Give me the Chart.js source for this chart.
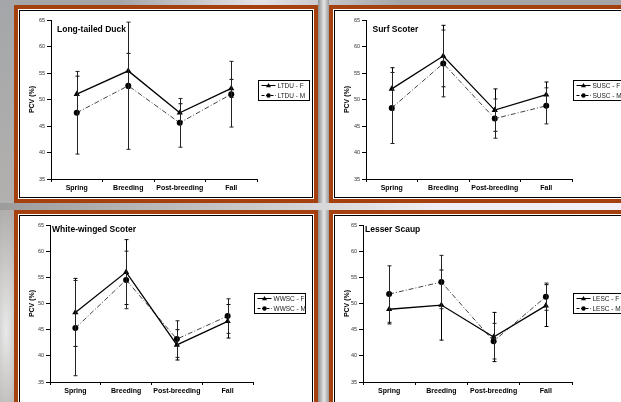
<!DOCTYPE html>
<html>
<head>
<meta charset="utf-8">
<script src="https://cdn.jsdelivr.net/npm/chart.js@4.4.1/dist/chart.umd.min.js"></script>
<style>
  html, body { margin: 0; padding: 0; width: 621px; height: 402px; overflow: hidden; }
  body {
    position: relative;
    background:
      radial-gradient(ellipse 140px 60px at 260px 0px, rgba(235,235,238,0.9), rgba(235,235,238,0) 100%),
      radial-gradient(ellipse 20px 120px at 6px 330px, rgba(240,240,240,0.9), rgba(240,240,240,0) 100%),
      linear-gradient(180deg, #a4a6a9 0%, #b2b0ae 50%, #a9a7a5 100%);
  }
  .vgap {
    position: absolute; left: 318px; top: 0; width: 11px; height: 402px;
    background: linear-gradient(90deg, #8e8e8e, #e6e6e6 55%, #9a9a9a);
  }
  .hgap {
    position: absolute; left: 0; top: 203px; width: 621px; height: 7px;
    background: linear-gradient(90deg, #9c9c9c 0%, #c9c9c9 40%, #eeeef4 70%, #f2f0f6 100%);
  }
  .panel {
    position: absolute;
    border: 4px solid #a4410e;
    background: #fff;
    padding: 1px;
  }
  .inner { border: 1px solid #000; width: 292px; height: 186px; background: #fff; }
  canvas { display: block; }
</style>
</head>
<body>
<div class="vgap"></div>
<div class="hgap"></div>
<div class="panel" style="left:14px;top:5px"><div class="inner"><canvas id="ltdu" width="292" height="186"></canvas></div></div>
<div class="panel" style="left:329px;top:5px"><div class="inner"><canvas id="susc" width="292" height="186"></canvas></div></div>
<div class="panel" style="left:14px;top:210px"><div class="inner"><canvas id="wwsc" width="292" height="186"></canvas></div></div>
<div class="panel" style="left:329px;top:210px"><div class="inner"><canvas id="lesc" width="292" height="186"></canvas></div></div>

<script>
'use strict';

const SEASONS = ['Spring', 'Breeding', 'Post-breeding', 'Fall'];
const Y_TICKS = [35, 40, 45, 50, 55, 60, 65];

// Long-tailed Duck
const LTDU_F     = [51.0, 55.4, 47.5, 52.1];
const LTDU_F_ERR = [3.4, 3.3, 1.7, 1.7];
const LTDU_M     = [47.5, 52.6, 45.6, 51.0];
const LTDU_M_ERR = [7.8, 12.0, 4.6, 6.2];

// Surf Scoter
const SUSC_F     = [52.0, 58.2, 48.0, 50.9];
const SUSC_F_ERR = [4.0, 5.8, 4.0, 2.4];
const SUSC_M     = [48.4, 56.8, 46.4, 48.8];
const SUSC_M_ERR = [6.7, 6.3, 3.7, 3.4];

// White-winged Scoter
const WWSC_F     = [48.3, 56.0, 42.1, 46.6];
const WWSC_F_ERR = [6.5, 6.2, 2.9, 3.2];
const WWSC_M     = [45.3, 54.5, 43.2, 47.6];
const WWSC_M_ERR = [9.1, 5.5, 3.5, 3.3];

// Lesser Scaup
const LESC_F     = [48.9, 49.7, 43.6, 49.6];
const LESC_F_ERR = [2.8, 6.7, 4.7, 4.0];
const LESC_M     = [51.8, 54.1, 42.8, 51.3];
const LESC_M_ERR = [5.4, 5.1, 3.4, 2.6];

const FONT = "'Liberation Sans', Arial, sans-serif";

// ── error bars ──
const errorBars = {
  id: 'errorBars',
  afterDatasetsDraw(chart) {
    const { ctx, scales: { x, y } } = chart;
    ctx.save();
    chart.data.datasets.forEach(ds => {
      if (!ds.errors) return;
      ctx.strokeStyle = ds.errColor || '#000';
      ctx.lineWidth = 1;
      ds.data.forEach((v, i) => {
        const px = Math.round(x.getPixelForValue(i)) + 0.5;
        const top = y.getPixelForValue(v + ds.errors[i]);
        const bot = y.getPixelForValue(v - ds.errors[i]);
        ctx.beginPath();
        ctx.moveTo(px, top); ctx.lineTo(px, bot);
        ctx.moveTo(px - 2, top); ctx.lineTo(px + 2, top);
        ctx.moveTo(px - 2, bot); ctx.lineTo(px + 2, bot);
        ctx.stroke();
      });
    });
    ctx.restore();
  },
};

// ── species label + legend box ──
const panelDecor = {
  id: 'panelDecor',
  afterDraw(chart, args, opts) {
    const { ctx, chartArea } = chart;
    ctx.save();
    ctx.fillStyle = '#000';
    ctx.font = `bold 8.5px ${FONT}`;
    ctx.textBaseline = 'middle';
    ctx.textAlign = 'left';
    ctx.fillText(opts.label, chartArea.left + opts.labelDx, chartArea.top + opts.labelDy);

    // legend
    const bx = chartArea.right + 1.5, by = opts.legendY + 0.5, bw = 51, bh = 20;
    ctx.fillStyle = '#fff';
    ctx.fillRect(bx, by, bw, bh);
    ctx.strokeStyle = '#000';
    ctx.lineWidth = 1;
    ctx.strokeRect(bx, by, bw, bh);
    chart.data.datasets.forEach((ds, i) => {
      const ly = by + 5 + i * 10;
      ctx.save();
      ctx.strokeStyle = '#000';
      ctx.lineWidth = 1;
      ctx.setLineDash(ds.borderDash && ds.borderDash.length ? [3, 1.5] : []);
      ctx.beginPath();
      ctx.moveTo(bx + 3, ly); ctx.lineTo(bx + 17, ly);
      ctx.stroke();
      ctx.restore();
      ctx.fillStyle = '#000';
      ctx.beginPath();
      if (ds.pointStyle === 'triangle') {
        ctx.moveTo(bx + 10, ly - 2.5);
        ctx.lineTo(bx + 12.5, ly + 1.8);
        ctx.lineTo(bx + 7.5, ly + 1.8);
        ctx.closePath();
      } else {
        ctx.arc(bx + 10, ly, 2.2, 0, Math.PI * 2);
      }
      ctx.fill();
      ctx.font = `6.5px ${FONT}`;
      ctx.fillStyle = '#222';
      ctx.textBaseline = 'middle';
      ctx.fillText(ds.label, bx + 19, ly + 0.5);
    });
    ctx.restore();
  },
};

function buildPanel(id, code, label, fVals, fErr, mVals, mErr, lay) {
  const W = 292, H = 186;
  return new Chart(document.getElementById(id), {
    type: 'line',
    data: {
      labels: SEASONS,
      datasets: [
        {
          label: `${code} - F`,
          data: fVals,
          errors: fErr,
          borderColor: '#000',
          borderWidth: 1.3,
          pointStyle: 'triangle',
          pointRadius: 3.6,
          pointBackgroundColor: '#000',
          pointBorderColor: '#000',
          pointBorderWidth: 0,
          tension: 0,
        },
        {
          label: `${code} - M`,
          data: mVals,
          errors: mErr,
          errColor: '#222',
          borderColor: '#444',
          borderWidth: 1,
          borderDash: [5, 2, 1, 2],
          pointStyle: 'circle',
          pointRadius: 3,
          pointBackgroundColor: '#000',
          pointBorderColor: '#000',
          pointBorderWidth: 0,
          tension: 0,
        },
      ],
    },
    options: {
      responsive: false,
      animation: false,
      devicePixelRatio: 1,
      layout: { padding: { left: 0, top: lay.top, right: W - lay.right, bottom: 0 } },
      plugins: {
        legend: { display: false },
        tooltip: { enabled: false },
        panelDecor: { label, labelDx: lay.labelDx, labelDy: lay.labelDy, legendY: lay.legendY },
      },
      scales: {
        x: {
          type: 'category',
          offset: true,
          afterFit: s => { s.height = H - lay.bottom; },
          grid: { offset: true, drawOnChartArea: false, tickLength: 3, color: '#000' },
          border: { color: '#000', width: 1 },
          ticks: { color: '#000', padding: 2, maxRotation: 0, font: { family: FONT, size: 7, weight: 'bold' } },
        },
        y: {
          min: Y_TICKS[0],
          max: Y_TICKS[Y_TICKS.length - 1],
          afterFit: s => { s.width = lay.left; },
          afterBuildTicks: s => { s.ticks = Y_TICKS.map(v => ({ value: v })); },
          grid: { drawOnChartArea: false, tickLength: 4, color: '#000' },
          border: { color: '#000', width: 1 },
          ticks: { color: '#333', padding: 2, font: { family: FONT, size: 5.5 } },
          title: {
            display: true,
            text: 'PCV (%)',
            color: '#000',
            padding: { top: 8, bottom: 0 },
            font: { family: FONT, size: 7, weight: 'bold' },
          },
        },
      },
    },
    plugins: [errorBars, panelDecor],
  });
}

buildPanel('ltdu', 'LTDU', 'Long-tailed Duck', LTDU_F, LTDU_F_ERR, LTDU_M, LTDU_M_ERR,
  { left: 31, right: 237, top: 9, bottom: 168, labelDx: 6, labelDy: 10, legendY: 69 });
buildPanel('susc', 'SUSC', 'Surf Scoter', SUSC_F, SUSC_F_ERR, SUSC_M, SUSC_M_ERR,
  { left: 31, right: 237, top: 9, bottom: 168, labelDx: 6.5, labelDy: 10, legendY: 69 });
buildPanel('wwsc', 'WWSC', 'White-winged Scoter', WWSC_F, WWSC_F_ERR, WWSC_M, WWSC_M_ERR,
  { left: 30, right: 233, top: 9, bottom: 166, labelDx: 2, labelDy: 5, legendY: 77 });
buildPanel('lesc', 'LESC', 'Lesser Scaup', LESC_F, LESC_F_ERR, LESC_M, LESC_M_ERR,
  { left: 28, right: 237, top: 9, bottom: 166, labelDx: 2, labelDy: 5, legendY: 77 });
</script>
</body>
</html>
